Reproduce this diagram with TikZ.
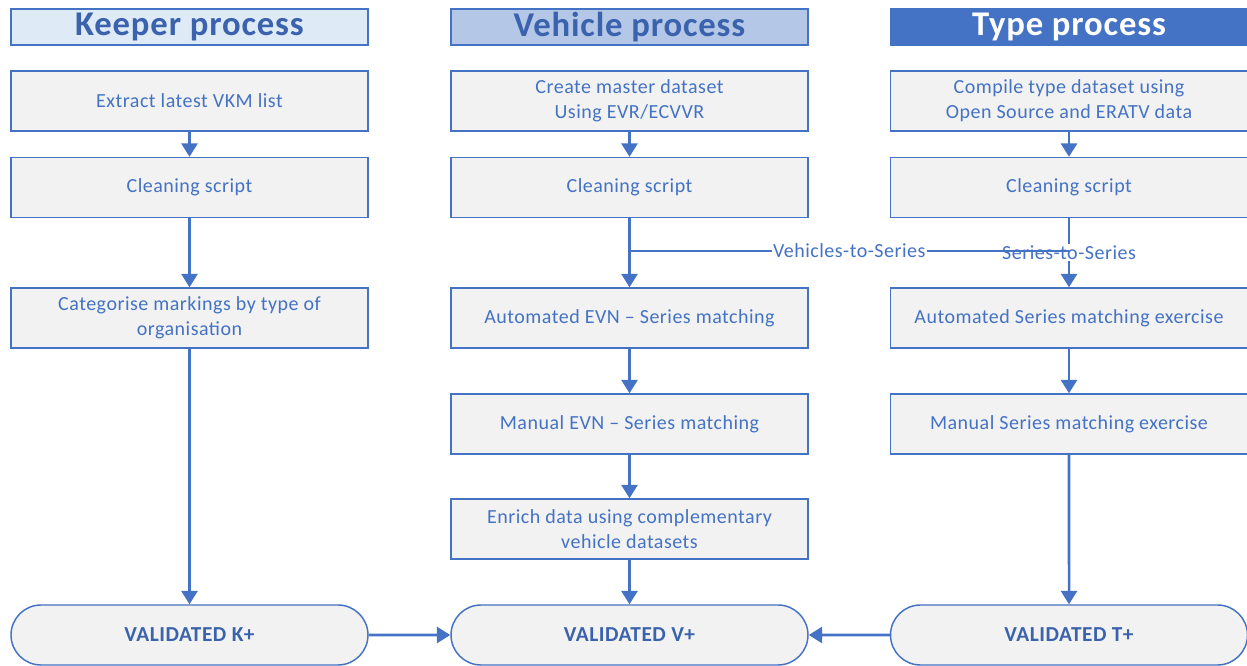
\documentclass[tikz,border=0pt]{standalone}
\usepackage{fontspec}
\setmainfont{Carlito}[LetterSpace=2.5]
\usetikzlibrary{positioning, shapes.misc, arrows.meta}
\definecolor{lineblue}{HTML}{4472C4}
\definecolor{headtext}{HTML}{3A62AD}
\definecolor{keeperfill}{HTML}{DEEBF7}
\definecolor{vehiclefill}{HTML}{B4C7E7}
\definecolor{boxgrey}{HTML}{F2F2F2}
\tikzset{
every picture/.style={
line width=1.1pt
}}
\tikzset{
  header/.style={draw=lineblue, minimum width=267.75pt, minimum height=27pt,
    inner sep=0pt, text=headtext, font=\fontsize{26}{30}\selectfont\bfseries},
  stepbox/.style={draw=lineblue, fill=boxgrey, text=lineblue, align=center,
    minimum width=267.75pt, minimum height=45pt, inner sep=0pt,
    font=\fontsize{15}{18.75}\selectfont},
  result/.style={rounded rectangle, draw=lineblue, fill=boxgrey, text=headtext,
    minimum width=267.75pt, minimum height=45pt, inner sep=0pt,
    font=\fontsize{16}{18}\selectfont\bfseries},
  flow/.style={draw=lineblue, line width=1.9pt, -{Triangle[length=10pt,width=12pt]}},
  link/.style={draw=lineblue, line width=1.9pt},
  tag/.style={fill=white, text=lineblue, inner sep=1pt, font=\fontsize{15}{17}\selectfont}
}

\begin{document}
\begin{tikzpicture}[x=0.75pt, y=-0.75pt]
  \useasboundingbox (0,0) rectangle (1247,666);

  % column headers
  \node [header, fill=keeperfill] (hk) at (189.5,27) {Keeper process};
  \node [header, fill=vehiclefill] (hv) at (629.5,27) {Vehicle process};
  \node [header, fill=lineblue, text=white] (ht) at (1069,27) {Type process};

  % keeper column
  \node [stepbox] (k1) at (189.5,101) {Extract latest VKM list};
  \node [stepbox] (k2) at (189.5,187.5) {Cleaning script};
  \node [stepbox] (k3) at (189.5,318) {Categorise markings by type of\\organisation};
  \node [result] (kv) at (189.5,635) {VALIDATED K+};

  % vehicle column
  \node [stepbox] (v1) at (629.5,101) {Create master dataset\\Using EVR/ECVVR};
  \node [stepbox] (v2) at (629.5,187.5) {Cleaning script};
  \node [stepbox] (v3) at (629.5,318) {Automated EVN -- Series matching};
  \node [stepbox] (v4) at (629.5,424) {Manual EVN -- Series matching};
  \node [stepbox] (v5) at (629.5,529) {Enrich data using complementary\\vehicle datasets};
  \node [result] (vv) at (629.5,635) {VALIDATED V+};

  % type column
  \node [stepbox] (t1) at (1069,101) {Compile type dataset using\\Open Source and ERATV data};
  \node [stepbox] (t2) at (1069,187.5) {Cleaning script};
  \node [stepbox] (t3) at (1069,318) {Automated Series matching exercise};
  \node [stepbox] (t4) at (1069,424) {Manual Series matching exercise};
  \node [result] (tv) at (1069,635) {VALIDATED T+};

  \foreach \a/\b in {k1/k2, k2/k3, k3/kv, v1/v2, v2/v3, v3/v4, v4/v5, v5/vv, t1/t2, t3/t4, t4/tv} {
    \draw [flow] (\a) -- (\b);
  }
  \draw [flow] (t2) -- node [tag] (s2s) {Series-to-Series} (t3);

  % cross link between the columns
  \coordinate (vjoin) at (629.5,251);
  \coordinate (tjoin) at (1069,251);
  \draw [link] (tjoin) -- node [tag] (v2s) {Vehicles-to-Series} (vjoin);

  \draw [flow] (kv) -- (vv);
  \draw [flow] (tv) -- (vv);
\end{tikzpicture}
\end{document}
